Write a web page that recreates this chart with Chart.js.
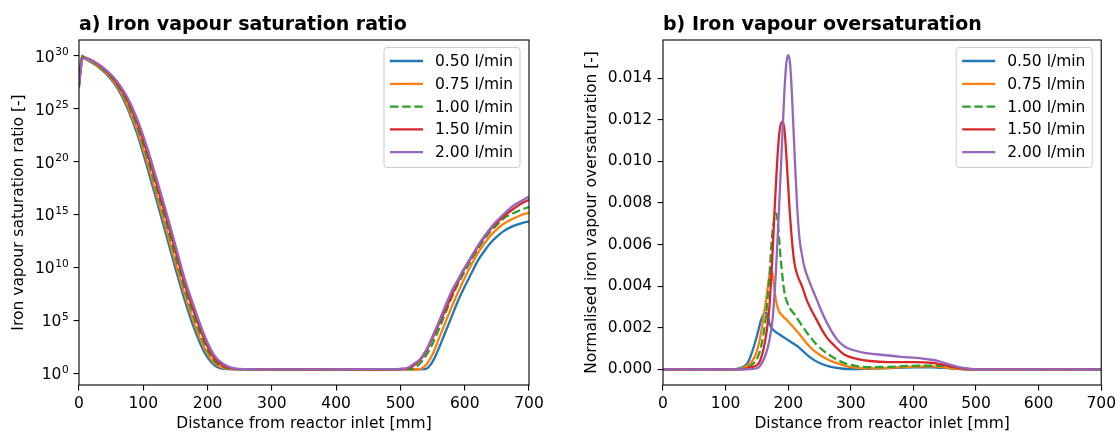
<!DOCTYPE html>
<html><head><meta charset="utf-8">
<script src="https://cdn.jsdelivr.net/npm/chart.js@4"></script>
<style>
body{margin:0;background:#fff;}
#wrap{position:relative;width:1120px;height:433px;background:#fff;}
canvas{position:absolute;top:0;}
</style>
</head><body>
<div id="wrap">
<canvas id="c1" width="560" height="433" style="left:0px"></canvas>
<canvas id="c2" width="560" height="433" style="left:560px"></canvas>
</div>
<script>
// ---------- shared ----------
const seriesLabels = ['0.50 l/min', '0.75 l/min', '1.00 l/min', '1.50 l/min', '2.00 l/min'];
const seriesColors = ['#1f77b4', '#ff7f0e', '#2ca02c', '#d62728', '#9467bd'];
const seriesDashed = [false, false, true, false, false];
const xTickValues = [0, 100, 200, 300, 400, 500, 600, 700];

// ---------- panel a: saturation ratio (values are log10 exponents) ----------
const logTickExps = [0, 5, 10, 15, 20, 25, 30];
const xA = [0, 2, 5, 10, 25, 45, 60, 75, 90, 105, 120, 135, 150, 165, 180, 195, 210, 225, 240, 260, 300, 400, 480, 500, 510, 520, 530, 540, 550, 560, 570, 580, 590, 600, 610, 620, 630, 640, 650, 660, 675, 690, 700];
const expA_050 = [27.0, 28.8, 30.0, 29.7, 29.15, 28.1, 26.9, 25.1, 22.7, 19.7, 16.5, 13.2, 9.9, 6.8, 4.1, 2.0, 0.8, 0.42, 0.37, 0.36, 0.35, 0.35, 0.36, 0.37, 0.37, 0.37, 0.38, 0.42, 1.1, 2.4, 3.9, 5.4, 6.9, 8.2, 9.4, 10.6, 11.5, 12.3, 12.9, 13.4, 13.9, 14.2, 14.35];
const expA_075 = [27.1, 28.6, 29.95, 29.75, 29.2, 28.2, 27.05, 25.35, 23.05, 20.15, 17.0, 13.75, 10.45, 7.3, 4.6, 2.4, 1.0, 0.5, 0.4, 0.37, 0.36, 0.36, 0.36, 0.37, 0.37, 0.38, 0.4, 0.8, 1.8, 3.3, 4.8, 6.3, 7.7, 9.0, 10.2, 11.3, 12.2, 13.0, 13.6, 14.1, 14.6, 15.0, 15.15];
const expA_100 = [27.2, 28.4, 29.9, 29.8, 29.3, 28.3, 27.2, 25.6, 23.4, 20.6, 17.5, 14.3, 11.0, 7.8, 5.1, 2.8, 1.2, 0.6, 0.42, 0.38, 0.36, 0.36, 0.37, 0.38, 0.39, 0.45, 0.9, 1.7, 2.8, 4.2, 5.7, 7.2, 8.5, 9.6, 10.7, 11.7, 12.6, 13.4, 14.0, 14.6, 15.1, 15.5, 15.7];
const expA_150 = [27.3, 28.3, 29.8, 29.8, 29.35, 28.4, 27.35, 25.85, 23.75, 21.05, 18.0, 14.85, 11.55, 8.3, 5.6, 3.2, 1.45, 0.7, 0.45, 0.39, 0.37, 0.37, 0.38, 0.4, 0.45, 0.7, 1.2, 2.1, 3.3, 4.7, 6.0, 7.4, 8.7, 9.9, 10.9, 11.9, 12.8, 13.6, 14.2, 14.8, 15.5, 16.1, 16.4];
const expA_200 = [27.4, 28.2, 29.7, 29.75, 29.4, 28.5, 27.5, 26.1, 24.1, 21.5, 18.5, 15.4, 12.1, 8.8, 6.1, 3.6, 1.75, 0.85, 0.5, 0.4, 0.38, 0.38, 0.39, 0.42, 0.5, 0.85, 1.3, 2.2, 3.5, 4.9, 6.4, 7.8, 8.9, 10.0, 11.0, 12.0, 12.9, 13.7, 14.4, 15.0, 15.8, 16.35, 16.7];
const expA_all = [expA_050, expA_075, expA_100, expA_150, expA_200];

// ---------- panel b: normalised oversaturation ----------
const oversatTicks = [0, 0.002, 0.004, 0.006, 0.008, 0.010, 0.012, 0.014];
const xB_050 = [0, 110, 125, 135, 142, 150, 157, 163, 166, 170, 176, 185, 200, 215, 234, 250, 268, 285, 300, 350, 400, 430, 460, 490, 700];
const yB_050 = [0, 0, 0.00008, 0.0003, 0.0008, 0.0016, 0.0024, 0.0027, 0.0027, 0.0022, 0.0019, 0.0017, 0.0014, 0.0011, 0.0006, 0.0003, 0.00012, 0.00004, 0.00001, 0.00005, 0.0001, 0.0001, 0.00004, 0, 0];
const xB_075 = [0, 115, 130, 140, 148, 155, 160, 165, 170, 173, 176, 180, 185, 190, 200, 215, 234, 250, 265, 280, 300, 320, 350, 400, 430, 460, 490, 700];
const yB_075 = [0, 0, 0.0001, 0.0003, 0.0007, 0.0015, 0.0024, 0.0034, 0.0045, 0.0048, 0.0044, 0.0034, 0.0028, 0.0026, 0.0023, 0.0018, 0.0011, 0.0007, 0.00045, 0.00027, 0.0001, 0.00005, 0.00006, 0.00013, 0.00014, 0.00006, 0, 0];
const xB_100 = [0, 120, 135, 145, 150, 155, 160, 165, 170, 174, 178, 181, 184, 188, 194, 200, 211, 222, 234, 245, 256, 270, 290, 310, 330, 360, 400, 440, 460, 480, 500, 700];
const yB_100 = [0, 0, 0.0001, 0.0003, 0.0005, 0.0009, 0.0016, 0.0027, 0.0045, 0.0063, 0.0073, 0.0075, 0.0068, 0.0053, 0.0037, 0.0031, 0.0026, 0.0021, 0.0016, 0.0012, 0.0009, 0.0006, 0.0003, 0.00015, 0.0001, 0.00012, 0.00017, 0.00018, 0.00013, 0.00005, 0, 0];
const xB_150 = [0, 125, 140, 150, 155, 160, 165, 170, 175, 178, 182, 186, 190, 192, 195, 198, 202, 206, 210, 215, 222, 230, 245, 260, 275, 290, 310, 330, 360, 400, 430, 450, 470, 490, 700];
const yB_150 = [0, 0, 0.0001, 0.0002, 0.0004, 0.0009, 0.0017, 0.003, 0.0056, 0.0075, 0.0098, 0.0114, 0.0119, 0.0119, 0.0112, 0.0098, 0.0078, 0.0062, 0.0051, 0.0045, 0.004, 0.0033, 0.0024, 0.0016, 0.0011, 0.0007, 0.0005, 0.0004, 0.00035, 0.00035, 0.00031, 0.0002, 0.00008, 0, 0];
const xB_200 = [0, 135, 150, 158, 165, 170, 175, 180, 185, 190, 194, 197, 200, 203, 206, 210, 214, 218, 222, 226, 234, 245, 256, 268, 279, 290, 302, 320, 348, 380, 405, 428, 440, 450, 465, 485, 500, 700];
const yB_200 = [0, 0, 0.00005, 0.0003, 0.0008, 0.0014, 0.0024, 0.0045, 0.0075, 0.0108, 0.0134, 0.0147, 0.0151, 0.0147, 0.0132, 0.0105, 0.008, 0.0063, 0.0055, 0.0049, 0.0042, 0.0034, 0.0026, 0.0019, 0.0014, 0.0011, 0.00094, 0.0008, 0.0007, 0.0006, 0.00055, 0.00046, 0.0004, 0.0003, 0.00017, 0.00004, 0, 0];
const xB_all = [xB_050, xB_075, xB_100, xB_150, xB_200];
const yB_all = [yB_050, yB_075, yB_100, yB_150, yB_200];

// ---------- styling ----------
const FONT = 'DejaVu Sans';
const FS = 15.5;
const TITLE_FS = 19;
const SUP_FS = 10.6;
const LW = 2.3;
const DASH = [8.5, 3.7];
const TICK_LEN = 5.4;
const TICK_PAD = 5.4;

function makeDatasets(pointsPerSeries){
  return pointsPerSeries.map((pts, i) => ({
    label: seriesLabels[i],
    data: pts,
    borderColor: seriesColors[i],
    backgroundColor: seriesColors[i],
    borderWidth: LW,
    borderDash: seriesDashed[i] ? DASH : [],
    pointRadius: 0,
    fill: false,
    cubicInterpolationMode: 'monotone',
    order: 5 - i
  }));
}

function decoPlugin(cfg){
  return {
    id: 'deco',
    afterDraw(chart){
      const ctx = chart.ctx, a = chart.chartArea;
      ctx.save();
      // frame
      ctx.strokeStyle = '#000';
      ctx.lineWidth = 1.1;
      ctx.strokeRect(a.left, a.top, a.right - a.left, a.bottom - a.top);
      // title
      ctx.fillStyle = '#000';
      ctx.font = 'bold ' + TITLE_FS + 'px "' + FONT + '"';
      ctx.textAlign = 'left';
      ctx.textBaseline = 'alphabetic';
      ctx.fillText(cfg.title, a.left, 30);
      // x title
      ctx.font = FS + 'px "' + FONT + '"';
      ctx.textAlign = 'center';
      ctx.textBaseline = 'middle';
      ctx.fillText(cfg.xTitle, (a.left + a.right) / 2, 424);
      // y title
      ctx.save();
      ctx.translate(cfg.yTitleX, (a.top + a.bottom) / 2);
      ctx.rotate(-Math.PI / 2);
      ctx.fillText(cfg.yTitle, 0, 0);
      ctx.restore();
      // log tick labels as 10 with raised exponent
      if (cfg.logLabels) {
        const ys = chart.scales.y;
        const right = ys.right - TICK_LEN - TICK_PAD;
        ctx.textAlign = 'left';
        ctx.textBaseline = 'alphabetic';
        logTickExps.forEach(e => {
          const py = ys.getPixelForValue(Math.pow(10, e));
          ctx.font = FS + 'px "' + FONT + '"';
          const w10 = ctx.measureText('10').width;
          ctx.font = SUP_FS + 'px "' + FONT + '"';
          const wE = ctx.measureText(String(e)).width;
          const x0 = right - w10 - wE;
          ctx.font = FS + 'px "' + FONT + '"';
          ctx.fillText('10', x0, py + 6);
          ctx.font = SUP_FS + 'px "' + FONT + '"';
          ctx.fillText(String(e), x0 + w10 + 0.5, py - 0.8);
        });
      }
      // legend
      const bw = 136, bh = 120;
      const bx = a.right - 9 - bw, by = a.top + 7.5;
      ctx.beginPath();
      if (ctx.roundRect) ctx.roundRect(bx, by, bw, bh, 3); else ctx.rect(bx, by, bw, bh);
      ctx.fillStyle = 'rgba(255,255,255,0.8)';
      ctx.fill();
      ctx.strokeStyle = '#cccccc';
      ctx.lineWidth = 1;
      ctx.stroke();
      ctx.font = FS + 'px "' + FONT + '"';
      ctx.textAlign = 'left';
      ctx.textBaseline = 'middle';
      chart.data.datasets.forEach((ds, i) => {
        const yy = by + 13.5 + i * 22.8;
        ctx.beginPath();
        ctx.setLineDash(ds.borderDash || []);
        ctx.strokeStyle = ds.borderColor;
        ctx.lineWidth = LW;
        ctx.moveTo(bx + 6, yy);
        ctx.lineTo(bx + 39, yy);
        ctx.stroke();
        ctx.setLineDash([]);
        ctx.fillStyle = '#000';
        ctx.fillText(ds.label, bx + 51, yy + 1);
      });
      ctx.restore();
    }
  };
}

const tickFont = {family: FONT, size: FS};
const gridOpts = {display: true, drawOnChartArea: false, drawTicks: true, tickLength: TICK_LEN, color: '#000', lineWidth: 1.1};

function xScale(){
  return {
    type: 'linear', min: 0, max: 700,
    afterBuildTicks: s => { s.ticks = xTickValues.map(v => ({value: v})); },
    afterFit: s => { s.height = 48; },
    grid: gridOpts,
    border: {display: false},
    ticks: {font: tickFont, color: '#000', padding: 4, maxRotation: 0, autoSkip: false,
            callback: v => String(v)}
  };
}

// ---------- chart a ----------
const ptsA = expA_all.map(arr => arr.map((e, k) => ({x: xA[k], y: Math.pow(10, e)})));
new Chart(document.getElementById('c1'), {
  type: 'line',
  data: {datasets: makeDatasets(ptsA)},
  options: {
    responsive: false, animation: false, events: [],
    layout: {padding: {top: 40, right: 31, left: 0, bottom: 0}},
    plugins: {legend: {display: false}, tooltip: {enabled: false}},
    scales: {
      x: xScale(),
      y: {
        type: 'logarithmic', min: Math.pow(10, -1.105), max: Math.pow(10, 31.48),
        afterBuildTicks: s => { s.ticks = logTickExps.map(e => ({value: Math.pow(10, e)})); },
        afterFit: s => { s.width = 79; },
        grid: gridOpts,
        border: {display: false},
        ticks: {display: false}
      }
    }
  },
  plugins: [decoPlugin({title: 'a) Iron vapour saturation ratio', xTitle: 'Distance from reactor inlet [mm]', yTitle: 'Iron vapour saturation ratio [-]', yTitleX: 19, logLabels: true})]
});

// ---------- chart b ----------
const ptsB = yB_all.map((arr, i) => arr.map((v, k) => ({x: xB_all[i][k], y: v})));
new Chart(document.getElementById('c2'), {
  type: 'line',
  data: {datasets: makeDatasets(ptsB)},
  options: {
    responsive: false, animation: false, events: [],
    layout: {padding: {top: 40, right: 17, left: 0, bottom: 0}},
    plugins: {legend: {display: false}, tooltip: {enabled: false}},
    scales: {
      x: xScale(),
      y: {
        type: 'linear', min: -0.000754, max: 0.015834,
        afterBuildTicks: s => { s.ticks = oversatTicks.map(v => ({value: v})); },
        afterFit: s => { s.width = 103; },
        grid: gridOpts,
        border: {display: false},
        ticks: {font: tickFont, color: '#000', padding: TICK_PAD, autoSkip: false,
                callback: v => v.toFixed(3)}
      }
    }
  },
  plugins: [decoPlugin({title: 'b) Iron vapour oversaturation', xTitle: 'Distance from reactor inlet [mm]', yTitle: 'Normalised iron vapour oversaturation [-]', yTitleX: 32})]
});
</script>
</body></html>
